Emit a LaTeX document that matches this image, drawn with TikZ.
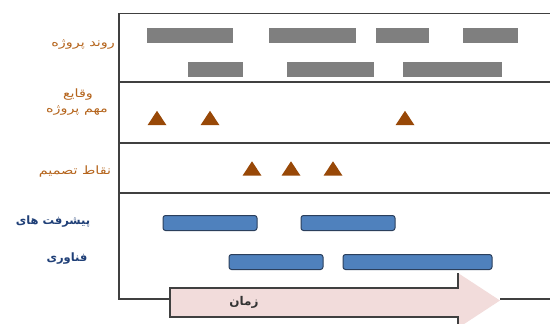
\documentclass[tikz,border=0pt]{standalone}
\usepackage{fontspec}
\newfontfamily\arabicfont[Script=Arabic]{DejaVu Sans}
\newfontfamily\arabicwide[Script=Arabic,FakeStretch=1.25]{DejaVu Sans}
\TeXXeTstate=1
\definecolor{framec}{HTML}{404040}
\definecolor{grayb}{HTML}{7F7F7F}
\definecolor{brownt}{HTML}{984807}
\definecolor{labelor}{HTML}{B5651D}
\definecolor{labelbl}{HTML}{1F3F77}
\definecolor{blueb}{HTML}{4F81BD}
\definecolor{bluebd}{HTML}{2B3F5C}
\definecolor{arrowf}{HTML}{F2DCDB}
\begin{document}
\begin{tikzpicture}[x=1pt,y=-1pt,
  frameline/.style={draw=framec,line width=1.3pt},
  graybar/.style={fill=grayb,draw=none,inner sep=0pt,minimum height=15pt},
  bluebar/.style={fill=blueb,draw=bluebd,line width=1pt,rounded corners=2.5pt,inner sep=0pt,minimum height=15pt},
  tri/.style={fill=brownt},
  orlabel/.style={text=labelor,font=\arabicwide\fontsize{11.5}{13}\selectfont,inner sep=0pt},
  bllabel/.style={text=labelbl,font=\arabicfont\bfseries\fontsize{11.5}{13}\selectfont,inner sep=0pt},
  pics/milestone/.style={code={\fill[tri] (-9.5,7.2) -- (9.5,7.2) -- (0,-7.2) -- cycle;}}
]
\useasboundingbox (0,0) rectangle (550,324);
\clip (0,0) rectangle (550,324);
% frame
\draw[frameline] (560,13.5) -- (119,13.5) -- (119,299) -- (170,299);
\draw[frameline] (119,82) -- (560,82);
\draw[frameline] (119,143) -- (560,143);
\draw[frameline] (119,193) -- (560,193);
\draw[frameline] (500,299) -- (560,299);
% gray bars
\node[graybar,minimum width=86pt] (g1) at (190,35.5) {};
\node[graybar,minimum width=87pt] (g2) at (312.5,35.5) {};
\node[graybar,minimum width=53pt] (g3) at (402.5,35.5) {};
\node[graybar,minimum width=55pt] (g4) at (490.5,35.5) {};
\node[graybar,minimum width=55pt] (g5) at (215.5,69) {};
\node[graybar,minimum width=87pt] (g6) at (330.5,69) {};
\node[graybar,minimum width=99pt] (g7) at (452.5,69) {};
% milestones
\pic at (157,118) {milestone};
\pic at (210,118) {milestone};
\pic at (405,118) {milestone};
\pic at (252,168.5) {milestone};
\pic at (291,168.5) {milestone};
\pic at (333,168.5) {milestone};
% blue bars
\node[bluebar,minimum width=94pt] (b1) at (210,223) {};
\node[bluebar,minimum width=94pt] (b2) at (348,223) {};
\node[bluebar,minimum width=94pt] (b3) at (276,262) {};
\node[bluebar,minimum width=149pt] (b4) at (417.5,262) {};
% time arrow
\fill[arrowf] (170,288) -- (458,288) -- (458,273) -- (500,300.5) -- (458,328) -- (458,317) -- (170,317) -- cycle;
\draw[frameline] (458,273) -- (458,288) -- (170,288) -- (170,317) -- (458,317) -- (458,328);
\node[text=black!80,font=\arabicfont\bfseries\fontsize{12}{14}\selectfont,inner sep=0pt] (t) at (244,302.5) {\beginR زمان\endR};
% labels
\node[orlabel,anchor=east] (l1) at (115,45) {\beginR روند پروژه\endR};
\node[orlabel] (l2a) at (78,95) {\beginR وقایع\endR};
\node[orlabel] (l2b) at (77,111) {\beginR مهم پروژه\endR};
\node[orlabel] (l3) at (75,172) {\beginR نقاط تصمیم\endR};
\node[bllabel] (l4a) at (53,222) {\beginR پیشرفت های\endR};
\node[bllabel] (l4b) at (67,259) {\beginR فناوری\endR};
\end{tikzpicture}
\end{document}
